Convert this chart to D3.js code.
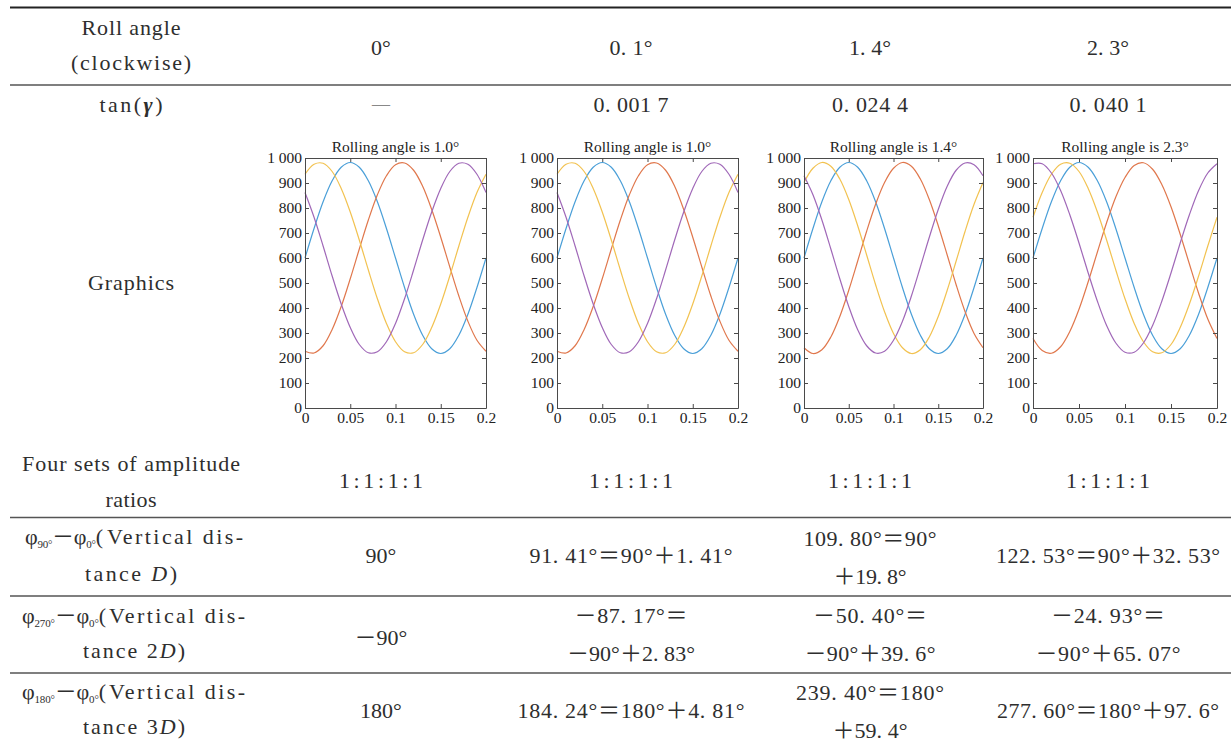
<!DOCTYPE html>
<html><head><meta charset="utf-8">
<script src="https://cdn.jsdelivr.net/npm/d3@7"></script>
<style>
body{margin:0;background:#fff;}
svg text{font-family:"Liberation Serif","Noto Sans CJK SC",serif;fill:#2e2e2e;}
.ax text{font-size:15.5px;fill:#222;}
.ax path,.ax line{stroke:#4a4a4a;}
</style></head><body>
<svg id="c" width="1231" height="744"></svg>
<script>
// ---------- table data ----------
const rollAngles = ["0°","0. 1°","1. 4°","2. 3°"];
const tanGamma = ["—","0. 001 7","0. 024 4","0. 040 1"];
const ampRatios = ["1:1:1:1","1:1:1:1","1:1:1:1","1:1:1:1"];
const phi90 = [["90°"],["91. 41°＝90°＋1. 41°"],["109. 80°＝90°","＋19. 8°"],["122. 53°＝90°＋32. 53°"]];
const phi270 = [["－90°"],["－87. 17°＝","－90°＋2. 83°"],["－50. 40°＝","－90°＋39. 6°"],["－24. 93°＝","－90°＋65. 07°"]];
const phi180 = [["180°"],["184. 24°＝180°＋4. 81°"],["239. 40°＝180°","＋59. 4°"],["277. 60°＝180°＋97. 6°"]];
const headRoll = ["Roll angle","(clockwise)"];
const headGraphics = "Graphics";
const headAmp = ["Four sets of amplitude","ratios"];
const phiSubs = ["90°","270°","180°"];
const phiDist = ["","2","3"];

// ---------- chart data ----------
const chartTitles = ["Rolling angle is 1.0°","Rolling angle is 1.0°","Rolling angle is 1.4°","Rolling angle is 2.3°"];
const xTicks = [0,0.05,0.1,0.15,0.2];
const xTickLabels = ["0","0.05","0.1","0.15","0.2"];
const yTicks = [0,100,200,300,400,500,600,700,800,900,1000];
const yTickLabels = ["0","100","200","300","400","500","600","700","800","900","1 000"];
const sampleX = [0,0.01,0.02,0.03,0.04,0.05,0.06,0.07,0.08,0.09,0.1,0.11,0.12,0.13,0.14,0.15,0.16,0.17,0.18,0.19,0.2];

const c1Blue   = [600,718,825,909,963,982,963,909,825,718,600,482,375,291,237,218,237,291,375,482,600];
const c1Yellow = [935,975,979,946,878,784,672,552,437,338,265,225,221,254,322,416,528,648,763,862,935];
const c1Red    = [227,220,249,314,406,517,636,752,853,929,973,980,951,887,794,683,564,448,347,271,227];
const c1Purple = [862,763,648,528,416,322,254,221,225,265,338,437,552,672,784,878,946,979,975,935,862];

const c2Blue   = [600,718,825,909,963,982,963,909,825,718,600,482,375,291,237,218,237,291,375,482,600];
const c2Yellow = [935,975,979,946,878,784,672,552,437,338,265,225,221,254,322,416,528,648,763,862,935];
const c2Red    = [227,220,249,314,406,517,636,752,853,929,973,980,951,887,794,683,564,448,347,271,227];
const c2Purple = [862,763,648,528,416,322,254,221,225,265,338,437,552,672,784,878,946,979,975,935,862];

const c3Blue   = [600,718,825,909,963,982,963,909,825,718,600,482,375,291,237,218,237,291,375,482,600];
const c3Yellow = [902,959,982,967,916,834,729,612,493,385,298,241,218,233,284,366,471,588,707,815,902];
const c3Red    = [241,218,233,284,366,471,588,707,815,902,959,982,967,916,834,729,612,493,385,298,241];
const c3Purple = [929,853,752,636,517,406,313,249,220,227,271,347,448,564,683,794,887,951,980,973,929];

const c4Blue   = [600,718,825,909,963,982,963,909,825,718,600,482,375,291,237,218,237,291,375,482,600];
const c4Yellow = [763,862,935,975,979,946,878,784,672,552,437,338,265,225,221,254,322,416,528,648,763];
const c4Red    = [278,230,219,245,306,395,505,624,741,844,922,970,981,955,894,805,695,576,459,356,278];
const c4Purple = [977,977,940,870,773,660,540,427,330,260,223,223,260,330,427,540,660,773,870,940,977];

const seriesColors = ["#4a9fd8","#e0774c","#f2c250","#a068b8"];

// ---------- layout ----------
const W = 1231, H = 744;
const colX = [131, 381, 631, 870, 1108];
const plotX = [[305,486],[557,738],[804,983],[1033,1217]];
const plotY = [408,158];
const FONT = '"Liberation Serif","Noto Sans CJK SC",serif';

const svg = d3.select("#c");
svg.append("rect").attr("width",W).attr("height",H).attr("fill","#fff");

// horizontal rules
[[7.5,2,"#222"],[85,1.4,"#555"],[517.5,1.4,"#555"],[596,1.4,"#555"],[673,1.4,"#555"]].forEach(r=>{
  svg.append("line").attr("x1",10).attr("x2",W).attr("y1",r[0]).attr("y2",r[0])
    .attr("stroke",r[2]).attr("stroke-width",r[1]);
});

// rich text: parts = [{t, sub, it, bold}]
function rich(x,y,parts,w,anchor){
  const t = svg.append("text").attr("x",x).attr("y",y)
    .attr("text-anchor",anchor||"middle")
    .style("font-family",FONT).style("font-size","22px");
  let shifted = false;
  parts.forEach(p=>{
    const ts = t.append("tspan").text(p.t);
    if(p.sub){ ts.style("font-size","11px"); if(!shifted){ts.attr("dy",4); shifted=true;} }
    else if(shifted){ ts.attr("dy",-4); shifted=false; }
    if(p.it) ts.style("font-style","italic");
    if(p.bold) ts.style("font-weight","bold");
  });
  if(w) t.attr("textLength",w).attr("lengthAdjust","spacing");
  return t;
}
function txt(x,y,s,w,anchor){ return rich(x,y,[{t:s}],w,anchor); }

// header row
txt(colX[0],35,headRoll[0],99);
txt(colX[0],70,headRoll[1],120);
const rollW = [null,43,42,42];
rollAngles.forEach((s,i)=>txt(colX[i+1],55,s,rollW[i]));

// tan row
rich(colX[0],112,[{t:"tan("},{t:"γ",it:true,bold:true},{t:")"}],63);
const tanW = [null,75,76,77];
tanGamma.forEach((s,i)=>{
  const t = txt(colX[i+1],i===0?110:112,s,tanW[i]);
  if(i===0) t.style("fill","#888").style("font-size","18px");
});

// graphics row label
txt(colX[0],290,headGraphics,86);

// amplitude row
txt(colX[0],471,headAmp[0],218);
txt(colX[0],507,headAmp[1],51);
ampRatios.forEach((s,i)=>txt(colX[i+1],488,s,84));

// phi rows
const phiRows = [
  {vals:phi90, l1:544, l2:581, one:563, two:[546,584],
   w:[null,[203],[133,73],[224]], a:[25,78], b:[107,136], c:[131,92]},
  {vals:phi270, l1:623, l2:658, one:645, two:[623,661],
   w:[null,[113,128],[114,131],[114,145]], a:[22,84], b:[109,136], c:[134,102]},
  {vals:phi180, l1:699, l2:734, one:718, two:[700,738],
   w:[null,[227],[148,75],[222]], a:[22,84], b:[109,136], c:[134,102]}
];
phiRows.forEach((r,ri)=>{
  rich(r.a[0], r.l1, [{t:"φ"},{t:phiSubs[ri],sub:true},{t:"－φ"},{t:"0°",sub:true},{t:"("}], r.a[1], "start");
  rich(r.b[0], r.l1, [{t:"Vertical dis-"}], r.b[1], "start");
  const p2 = [{t:"tance "+phiDist[ri]},{t:"D",it:true},{t:")"}];
  rich(r.c[0], r.l2, p2, r.c[1], "middle");
  r.vals.forEach((v,i)=>{
    const ww = r.w[i];
    if(v.length===1){
      txt(colX[i+1], r.one, v[0], ww?ww[0]:null);
    } else {
      txt(colX[i+1], r.two[0], v[0], ww[0]);
      txt(colX[i+1], r.two[1], v[1], ww[1]);
    }
  });
});

// charts
const chartSeries = [
  [c1Blue,c1Red,c1Yellow,c1Purple],
  [c2Blue,c2Red,c2Yellow,c2Purple],
  [c3Blue,c3Red,c3Yellow,c3Purple],
  [c4Blue,c4Red,c4Yellow,c4Purple]
];
chartSeries.forEach((ser,ci)=>{
  const x = d3.scaleLinear().domain([0,0.2]).range(plotX[ci]);
  const y = d3.scaleLinear().domain([0,1000]).range(plotY);
  const g = svg.append("g");
  const line = d3.line().x((d,i)=>x(sampleX[i])).y(d=>y(d)).curve(d3.curveCatmullRom);
  ser.forEach((s,si)=>{
    g.append("path").attr("d",line(s)).attr("fill","none")
      .attr("stroke",seriesColors[si]).attr("stroke-width",1.2);
  });
  g.append("g").attr("class","ax").attr("transform",`translate(0,${plotY[0]})`)
    .call(d3.axisBottom(x).tickValues(xTicks).tickFormat((d,i)=>xTickLabels[i]).tickSizeInner(-4).tickSizeOuter(0).tickPadding(4));
  g.append("g").attr("class","ax").attr("transform",`translate(0,${plotY[1]})`)
    .call(d3.axisTop(x).tickValues(xTicks).tickFormat("").tickSizeInner(-4).tickSizeOuter(0));
  g.append("g").attr("class","ax").attr("transform",`translate(${plotX[ci][0]},0)`)
    .call(d3.axisLeft(y).tickValues(yTicks).tickFormat((d,i)=>yTickLabels[i]).tickSizeInner(-4).tickSizeOuter(0).tickPadding(3));
  g.append("g").attr("class","ax").attr("transform",`translate(${plotX[ci][1]},0)`)
    .call(d3.axisRight(y).tickValues(yTicks).tickFormat("").tickSizeInner(-4).tickSizeOuter(0));
  g.selectAll(".ax text").attr("fill",null);
  svg.append("text").attr("x",(plotX[ci][0]+plotX[ci][1])/2).attr("y",152)
    .attr("text-anchor","middle").style("font-family",FONT).style("font-size","15.5px").style("fill","#222")
    .text(chartTitles[ci]);
});
</script>
</body></html>
